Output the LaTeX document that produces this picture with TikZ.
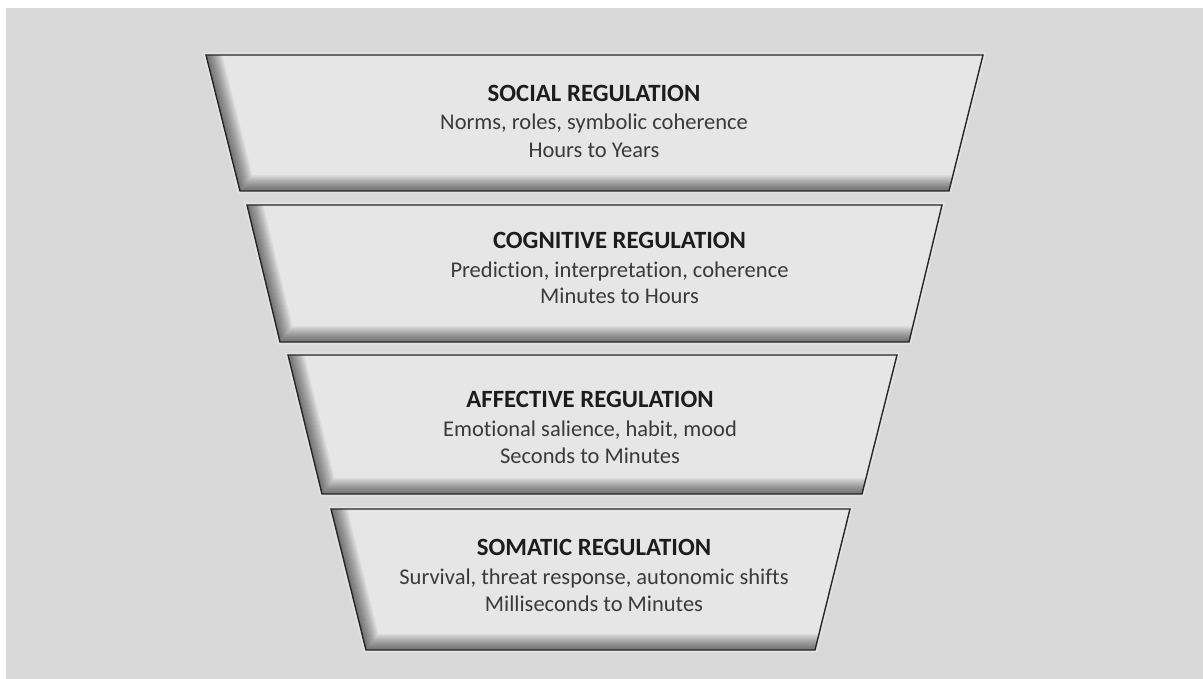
\documentclass[tikz,border=0pt]{standalone}
\usepackage{fontspec}
\setmainfont{Carlito}[Ligatures=NoCommon]
\usetikzlibrary{calc}
\definecolor{bg}{HTML}{D9D9D9}
\definecolor{tierfill}{HTML}{E6E6E6}
\definecolor{titlecol}{HTML}{1C1C1C}
\definecolor{bodycol}{HTML}{3A3A3A}
\tikzset{
  tierline/.style={draw=black!85, line width=1.4pt, line join=miter},
  tiertitle/.style={font=\fontsize{24.8}{28}\selectfont\bfseries, text=titlecol, inner sep=0pt, anchor=base},
  tierbody/.style={font=\fontsize{22.5}{26}\selectfont, text=bodycol, inner sep=0pt, anchor=base},
  glow/.style={draw=white, opacity=0.25, line width=5pt, line join=miter}
}
\newcommand\tierbox[4]{%
  \draw[glow] (#1)--(#2)--(#3)--(#4)--cycle;
  \begin{scope}
    \clip (#1)--(#2)--(#3)--(#4)--cycle;
    \fill[tierfill] (#1)--(#2)--(#3)--(#4)--cycle;
    \foreach \w in {2,4,...,32} {
      \draw[black, opacity=0.04, line width=\w pt, line join=miter]
        ($(#1)!-0.3!(#4)$) -- (#4) -- ($(#3)+(40,0)$);
    }
  \end{scope}
  \draw[tierline] (#1)--(#2)--(#3)--(#4)--cycle;
}
\begin{document}
\begin{tikzpicture}[x=1pt,y=-1pt]
\fill[white] (0,0) rectangle (1203,679);
\fill[bg] (6,8) rectangle (1203,679);
\useasboundingbox (0,0) rectangle (1203,679);

% Social
\coordinate (s1) at (206,55);  \coordinate (s2) at (983,55);
\coordinate (s3) at (949,191); \coordinate (s4) at (240,191);
\tierbox{s1}{s2}{s3}{s4}
\node[tiertitle] (soct) at (594,101.5) {SOCIAL REGULATION};
\node[tierbody] (socb) at (594,130) {Norms, roles, symbolic coherence};
\node[tierbody] (socc) at (594,157.5) {Hours to Years};

% Cognitive
\coordinate (c1) at (247,205); \coordinate (c2) at (942,205);
\coordinate (c3) at (909,342); \coordinate (c4) at (280,342);
\tierbox{c1}{c2}{c3}{c4}
\node[tiertitle] (cogt) at (619.5,248.5) {COGNITIVE REGULATION};
\node[tierbody] (cogb) at (619.5,278) {Prediction, interpretation, coherence};
\node[tierbody] (cogc) at (619.5,304) {Minutes to Hours};

% Affective
\coordinate (a1) at (288,355); \coordinate (a2) at (897,355);
\coordinate (a3) at (862,494); \coordinate (a4) at (322,494);
\tierbox{a1}{a2}{a3}{a4}
\node[tiertitle] (afft) at (590,407) {AFFECTIVE REGULATION};
\node[tierbody] (affb) at (590,436) {Emotional salience, habit, mood};
\node[tierbody] (affc) at (590,463) {Seconds to Minutes};

% Somatic
\coordinate (m1) at (331,509); \coordinate (m2) at (850,509);
\coordinate (m3) at (815,650); \coordinate (m4) at (366,650);
\tierbox{m1}{m2}{m3}{m4}
\node[tiertitle] (somt) at (594,555) {SOMATIC REGULATION};
\node[tierbody] (somb) at (594,584) {Survival, threat response, autonomic shifts};
\node[tierbody] (somc) at (594,611) {Milliseconds to Minutes};
\end{tikzpicture}
\end{document}
